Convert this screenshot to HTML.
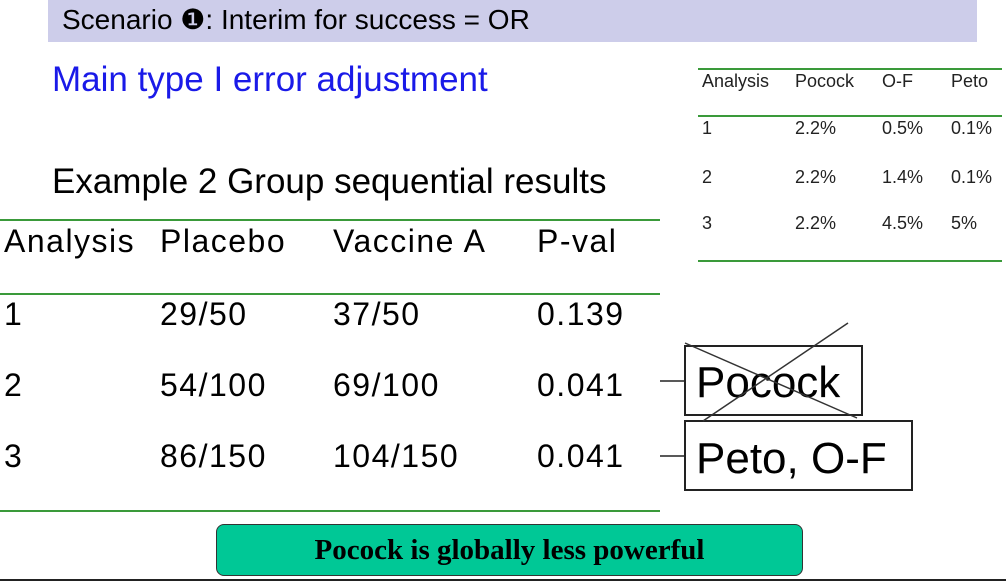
<!DOCTYPE html>
<html><head><meta charset="utf-8"><style>
body{margin:0;width:1006px;height:584px;position:relative;background:#fff;overflow:hidden;font-family:"Liberation Sans",sans-serif;color:#000}
.a{position:absolute;white-space:nowrap;line-height:1}
.g{position:absolute;height:2px;background:#3a9a3a}
.s{font-size:18px;color:#222}
.b{font-size:32px;letter-spacing:1.5px}
</style></head><body>
<div class="a" style="left:48px;top:0;width:929px;height:42px;background:#cdcdea"></div>
<div class="a" style="left:62px;top:6px;font-size:28px">Scenario ❶: Interim for success = OR</div>
<div class="a" style="left:52px;top:62px;font-size:35px;color:#1a1ae8">Main type I error adjustment</div>
<div class="a" style="left:52px;top:164px;font-size:35px">Example 2 Group sequential results</div>

<div class="g" style="left:0;top:219px;width:660px"></div>
<div class="g" style="left:0;top:293px;width:660px"></div>
<div class="g" style="left:0;top:510px;width:660px"></div>
<div>
<div class="a b" style="left:4px;top:225px">Analysis</div><div class="a b" style="left:160px;top:225px">Placebo</div><div class="a b" style="left:333px;top:225px">Vaccine A</div><div class="a b" style="left:537px;top:225px">P-val</div>
<div class="a b" style="left:4px;top:298px">1</div><div class="a b" style="left:160px;top:298px">29/50</div><div class="a b" style="left:333px;top:298px">37/50</div><div class="a b" style="left:537px;top:298px">0.139</div>
<div class="a b" style="left:4px;top:369px">2</div><div class="a b" style="left:160px;top:369px">54/100</div><div class="a b" style="left:333px;top:369px">69/100</div><div class="a b" style="left:537px;top:369px">0.041</div>
<div class="a b" style="left:4px;top:440px">3</div><div class="a b" style="left:160px;top:440px">86/150</div><div class="a b" style="left:333px;top:440px">104/150</div><div class="a b" style="left:537px;top:440px">0.041</div>
</div>

<div class="g" style="left:698px;top:68px;width:304px"></div>
<div class="g" style="left:698px;top:115px;width:304px"></div>
<div class="g" style="left:698px;top:260px;width:304px"></div>
<div>
<div class="a s" style="left:702px;top:72px">Analysis</div><div class="a s" style="left:795px;top:72px">Pocock</div><div class="a s" style="left:882px;top:72px">O-F</div><div class="a s" style="left:951px;top:72px">Peto</div>
<div class="a s" style="left:702px;top:119px">1</div><div class="a s" style="left:795px;top:119px">2.2%</div><div class="a s" style="left:882px;top:119px">0.5%</div><div class="a s" style="left:951px;top:119px">0.1%</div>
<div class="a s" style="left:702px;top:168px">2</div><div class="a s" style="left:795px;top:168px">2.2%</div><div class="a s" style="left:882px;top:168px">1.4%</div><div class="a s" style="left:951px;top:168px">0.1%</div>
<div class="a s" style="left:702px;top:214px">3</div><div class="a s" style="left:795px;top:214px">2.2%</div><div class="a s" style="left:882px;top:214px">4.5%</div><div class="a s" style="left:951px;top:214px">5%</div>
</div>

<svg style="position:absolute;left:0;top:0" width="1006" height="584">
<line x1="660" y1="381" x2="685" y2="381" stroke="#222" stroke-width="1.5"/>
<line x1="660" y1="456" x2="685" y2="456" stroke="#222" stroke-width="1.5"/>
<rect x="685" y="346" width="177" height="69" fill="none" stroke="#222" stroke-width="2"/>
<rect x="685" y="421" width="227" height="69" fill="none" stroke="#222" stroke-width="2"/>
<text x="696" y="397" font-size="44" font-family="Liberation Sans">Pocock</text>
<text x="696" y="473" font-size="44" font-family="Liberation Sans">Peto, O-F</text>
<line x1="685" y1="343" x2="857" y2="418" stroke="#333" stroke-width="1.5"/>
<line x1="703" y1="421" x2="848" y2="323" stroke="#333" stroke-width="1.5"/>
<line x1="0" y1="580" x2="1006" y2="580" stroke="#222" stroke-width="2"/>
</svg>

<div class="a" style="left:216px;top:524px;width:585px;height:50px;background:#00c896;border:1.5px solid #333;border-radius:8px;text-align:center;font-family:'Liberation Serif',serif;font-weight:bold;font-size:29px;line-height:50px">Pocock is globally less powerful</div>
</body></html>
